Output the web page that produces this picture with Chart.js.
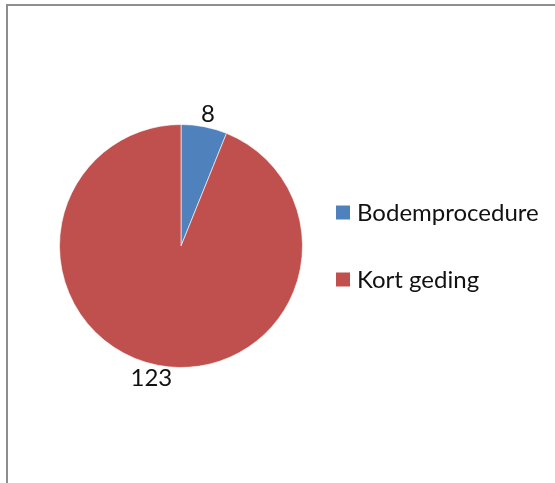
<!DOCTYPE html>
<html>
<head>
<meta charset="utf-8">
<script src="https://cdn.jsdelivr.net/npm/chart.js@4.4.1/dist/chart.umd.min.js"></script>
<style>
  html, body { margin: 0; padding: 0; background: #ffffff; }
  #wrap { position: relative; width: 555px; height: 483px; }
</style>
</head>
<body>
<div id="wrap"><canvas id="c" width="555" height="483"></canvas></div>
<script>
const categories = ["Bodemprocedure", "Kort geding"];
const values = [8, 123];
const colors = ["#4F81BD", "#C0504D"];

const FONT = '24px Lato, "Liberation Sans", sans-serif';

const framePlugin = {
  id: 'frame',
  beforeDraw(chart) {
    const ctx = chart.ctx;
    ctx.save();
    ctx.fillStyle = '#ffffff';
    ctx.fillRect(0, 0, chart.width, chart.height);
    ctx.strokeStyle = '#8e8e8e';
    ctx.lineWidth = 2;
    ctx.beginPath();
    ctx.moveTo(7, chart.height + 2);
    ctx.lineTo(7, 5);
    ctx.lineTo(chart.width + 2, 5);
    ctx.stroke();
    ctx.restore();
  }
};

const labelPlugin = {
  id: 'outsideLabels',
  afterDatasetsDraw(chart) {
    const ctx = chart.ctx;
    const meta = chart.getDatasetMeta(0);
    ctx.save();
    ctx.font = FONT;
    ctx.fillStyle = '#111111';
    ctx.textAlign = 'center';
    ctx.textBaseline = 'middle';
    meta.data.forEach((arc, i) => {
      const p = arc.getProps(['x', 'y', 'startAngle', 'endAngle', 'outerRadius'], true);
      const mid = (p.startAngle + p.endAngle) / 2;
      const txt = String(values[i]);
      const w = ctx.measureText(txt).width;
      const h = 16;
      const r = p.outerRadius + 5;
      const ax = p.x + Math.cos(mid) * r;
      const ay = p.y + Math.sin(mid) * r;
      const cx = ax + Math.cos(mid) * (w / 2 + 8);
      const cy = ay + Math.sin(mid) * (h / 2);
      ctx.fillText(txt, cx, cy);
    });
    ctx.restore();
  }
};

const legendPlugin = {
  id: 'sideLegend',
  afterDraw(chart) {
    const ctx = chart.ctx;
    const ds = chart.data.datasets[0];
    const area = chart.chartArea;
    ctx.save();
    ctx.font = FONT;
    ctx.textAlign = 'left';
    ctx.textBaseline = 'middle';
    const x0 = area.right + 33;
    const yMid = (area.top + area.bottom) / 2;
    const gap = 67;
    chart.data.labels.forEach((lab, i) => {
      const y = yMid - gap / 2 + i * gap;
      ctx.fillStyle = ds.backgroundColor[i];
      ctx.fillRect(x0, y - 7, 14, 14);
      ctx.fillStyle = '#111111';
      ctx.fillText(lab, x0 + 21, y + 1);
    });
    ctx.restore();
  }
};

new Chart(document.getElementById('c'), {
  type: 'pie',
  data: {
    labels: categories,
    datasets: [{
      data: values,
      backgroundColor: colors,
      borderColor: 'rgba(255,255,255,0.6)',
      borderWidth: 1
    }]
  },
  options: {
    responsive: false,
    animation: false,
    layout: { padding: { left: 59, top: 124, right: 252, bottom: 115 } },
    plugins: {
      legend: { display: false },
      tooltip: { enabled: false }
    }
  },
  plugins: [framePlugin, labelPlugin, legendPlugin]
});
</script>
</body>
</html>
